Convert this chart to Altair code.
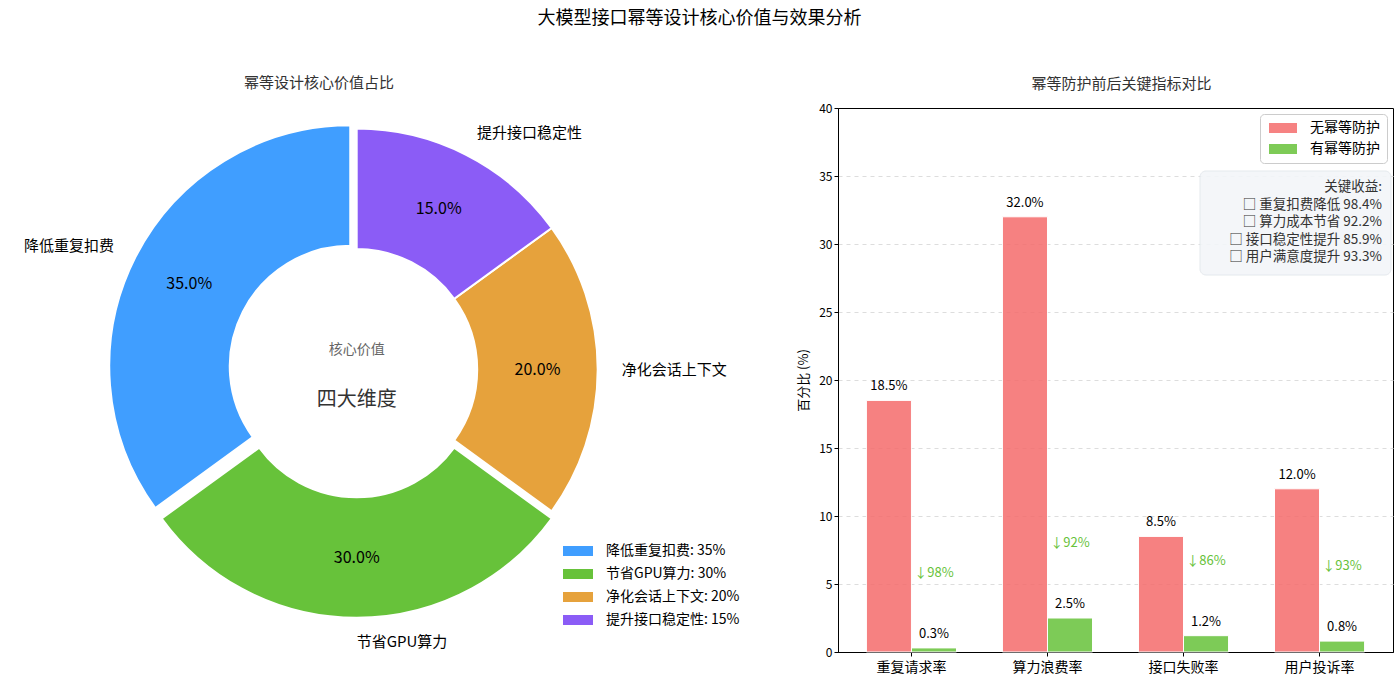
import math
import altair as alt
import pandas as pd

FONT = "Noto Sans CJK SC"

# ---------------- data ----------------
value_names = ["降低重复扣费", "节省GPU算力", "净化会话上下文", "提升接口稳定性"]
value_shares = [35, 30, 20, 15]
value_colors = ["#409EFF", "#67C23A", "#E6A23C", "#8B5CF6"]
explode = [0.03, 0.03, 0.0, 0.0]

metrics = ["重复请求率", "算力浪费率", "接口失败率", "用户投诉率"]
before = [18.5, 32.0, 8.5, 12.0]
after = [0.3, 2.5, 1.2, 0.8]
series_names = ["无幂等防护", "有幂等防护"]
series_colors = ["#F56C6C", "#67C23A"]

gain_names = ["重复扣费降低", "算力成本节省", "接口稳定性提升", "用户满意度提升"]
gain_values = [98.4, 92.2, 85.9, 93.3]

# ---------------- donut ----------------
R = 241
CX, CY = 350.7, 261.6
theta_scale = alt.Scale(domain=[0, 100], range=[0, 2 * math.pi])

rows = []
acc = 0
for name, share in zip(value_names, value_shares):
    end = 100 - acc
    start = end - share
    acc += share
    rows.append({"name": name, "share": share, "start": start, "end": end,
                 "mid": (start + end) / 2, "pct": f"{share:.1f}%",
                 "legend": f"{name}: {share}%"})
pie_df = pd.DataFrame(rows)
legend_labels = list(pie_df["legend"])

color_enc = alt.Color(
    "legend:N",
    scale=alt.Scale(domain=legend_labels, range=value_colors),
    legend=alt.Legend(
        title=None, orient="none", legendX=555, legendY=436,
        symbolType="M-3,-1H3V1H-3Z", symbolSize=100, symbolOffset=10,
        symbolStrokeWidth=0, labelFontSize=14, labelFont=FONT,
        labelColor="#000", rowPadding=9, labelOffset=21,
    ),
)

pie_layers = []
for i, row in pie_df.iterrows():
    ang = row["mid"] / 100 * 2 * math.pi
    dx = explode[i] * R * math.sin(ang)
    dy = -explode[i] * R * math.cos(ang)
    cx, cy = CX + dx, CY + dy
    base = alt.Chart(pie_df).transform_filter(alt.datum.name == row["name"])
    pie_layers.append(
        base.mark_arc(radius=R, radius2=R * 0.5, x=cx, y=cy, stroke="white", strokeWidth=2).encode(
            theta=alt.Theta("start:Q", scale=theta_scale, stack=False),
            theta2="end:Q",
            color=color_enc,
        )
    )
    pie_layers.append(
        base.mark_text(radius=R * 0.75, x=cx, y=cy, fontSize=16, font=FONT, color="#000").encode(
            theta=alt.Theta("mid:Q", scale=theta_scale, stack=False),
            text="pct:N",
        )
    )
    align = "left" if math.sin(ang) > 0 else "right"
    pie_layers.append(
        base.mark_text(radius=R * 1.1, x=cx, y=cy, fontSize=15, font=FONT, color="#000",
                       align=align, baseline="middle").encode(
            theta=alt.Theta("mid:Q", scale=theta_scale, stack=False),
            text="name:N",
        )
    )

one = pd.DataFrame({"k": [0]})
center_top = alt.Chart(one).mark_text(x=CX, y=CY - 20, fontSize=14, font=FONT, color="#666").encode(
    text=alt.value("核心价值"))
center_bot = alt.Chart(one).mark_text(x=CX, y=CY + 30, fontSize=20, font=FONT, color="#333").encode(
    text=alt.value("四大维度"))

left = alt.layer(*pie_layers, center_top, center_bot).properties(
    width=770, height=544,
    title=alt.TitleParams("幂等设计核心价值占比", fontSize=15, font=FONT, color="#333",
                          fontWeight="normal", dx=-72, offset=17),
    view=alt.ViewBackground(stroke="transparent"),
)

# ---------------- bars ----------------
bar_rows = []
for m, b, a in zip(metrics, before, after):
    bar_rows.append({"metric": m, "series": series_names[0], "value": b, "label": f"{b:.1f}%"})
    bar_rows.append({"metric": m, "series": series_names[1], "value": a, "label": f"{a:.1f}%"})
bar_df = pd.DataFrame(bar_rows)

red_rows = []
for m, b, a in zip(metrics, before, after):
    red_rows.append({"metric": m, "series": series_names[1], "pos": a + 5,
                     "label": f"↓{(b - a) / b * 100:.0f}%"})
red_df = pd.DataFrame(red_rows)

x_enc = alt.X("metric:N", sort=metrics,
              scale=alt.Scale(paddingInner=0, paddingOuter=0.04),
              axis=alt.Axis(title=None, labelAngle=0, labelFontSize=14, labelFont=FONT,
                            labelColor="#000", tickColor="#000", domainColor="#000",
                            tickSize=4, labelPadding=4))
xo_enc = alt.XOffset("series:N", sort=series_names,
                     scale=alt.Scale(paddingInner=0, paddingOuter=0.51))
y_scale = alt.Scale(domain=[0, 40], nice=False)

bars = alt.Chart(bar_df).mark_bar(stroke="white", strokeWidth=1, opacity=0.85).encode(
    x=x_enc, xOffset=xo_enc,
    y=alt.Y("value:Q", scale=y_scale,
            axis=alt.Axis(title="百分比 (%)", titleFontSize=13, titleFont=FONT, titleColor="#000",
                          titleFontWeight="normal", values=list(range(0, 41, 5)),
                          labelFontSize=12, labelColor="#000", tickColor="#000",
                          domainColor="#000", tickSize=4, grid=True, gridDash=[4, 4],
                          gridColor="#dddddd",
                          gridOpacity=alt.condition("datum.value === 40 || datum.value === 0",
                                                    alt.value(0), alt.value(1)),
                          titlePadding=8)),
    color=alt.Color("series:N", sort=series_names,
                    scale=alt.Scale(domain=series_names, range=series_colors),
                    legend=alt.Legend(title=None, orient="top-right", offset=6,
                                      symbolType="M-2.8,-1H2.8V1H-2.8Z", symbolSize=100,
                                      symbolOffset=9,
                                      symbolOpacity=0.85, symbolStrokeWidth=0,
                                      labelFontSize=14, labelFont=FONT, labelColor="#000",
                                      padding=7, strokeColor="#cccccc", cornerRadius=4,
                                      fillColor="white", rowPadding=7, labelOffset=20)),
)

bar_text = alt.Chart(bar_df).mark_text(baseline="bottom", dy=-7, fontSize=13, font=FONT, color="#000").encode(
    x=x_enc, xOffset=xo_enc, y=alt.Y("value:Q", scale=y_scale), text="label:N")

red_text = alt.Chart(red_df).mark_text(baseline="bottom", fontSize=13, font=FONT, color="#67C23A").encode(
    x=x_enc, xOffset=xo_enc, y=alt.Y("pos:Q", scale=y_scale), text="label:N")

gain_text = "关键收益:\n" + "\n".join(f"□  {n} {v}%" for n, v in zip(gain_names, gain_values))
box = alt.Chart(one).mark_rect(fill="#f3f6f9", stroke="#e2e7ec", cornerRadius=6, opacity=0.9).encode(
    x=alt.value(362), x2=alt.value(553), y=alt.value(63), y2=alt.value(167))
box_text = alt.Chart(one).mark_text(align="right", baseline="top", lineBreak="\n", lineHeight=17.5,
                                    fontSize=13.5, font=FONT, color="#333").encode(
    x=alt.value(544), y=alt.value(72), text=alt.value(gain_text))

right = alt.layer(bars, bar_text, red_text, box, box_text).properties(
    width=555, height=544,
    title=alt.TitleParams("幂等防护前后关键指标对比", fontSize=15, font=FONT, color="#333",
                          fontWeight="normal", offset=10, dx=6),
    view=alt.ViewBackground(stroke="#000", strokeWidth=1),
)

chart = alt.hconcat(left, right, spacing=62, bounds="flush").resolve_scale(
    color="independent", theta="independent"
).properties(
    title=alt.TitleParams("大模型接口幂等设计核心价值与效果分析", fontSize=18, font=FONT,
                          color="#000", fontWeight="normal", anchor="middle", offset=48),
    padding={"left": 5, "top": 9, "right": 5, "bottom": 5},
).configure(font=FONT)

chart.save("out.html", embed_options={"renderer": "svg", "actions": False})
